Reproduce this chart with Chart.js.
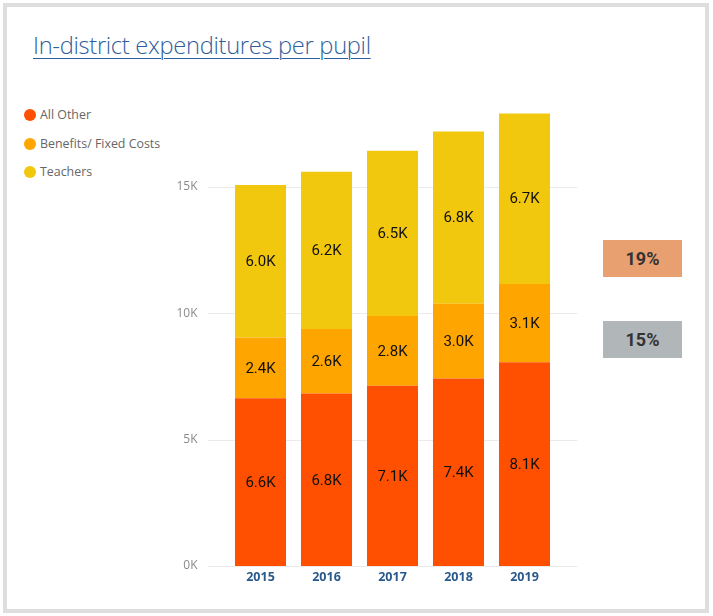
<!DOCTYPE html>
<html>
<head>
<meta charset="utf-8">
<script src="https://cdn.jsdelivr.net/npm/chart.js@4.4.0/dist/chart.umd.min.js"></script>
<style>
  html, body { margin: 0; padding: 0; background: #fff; }
  #wrap { position: relative; width: 713px; height: 616px; overflow: hidden; }
  #card { position: absolute; left: 3px; top: 3px; width: 698px; height: 602px; border: 4px solid #dedede; }
  #title { position: absolute; left: 33px; top: 29px; font-family: 'Open Sans', sans-serif; font-weight: 300;
           font-size: 23.7px; color: #2f5e9c; text-decoration: underline; text-underline-offset: 4px;
           text-decoration-thickness: 1px; white-space: nowrap; letter-spacing: -0.3px; }
  #legend { position: absolute; left: 24px; top: 106px; font-family: 'Open Sans', sans-serif; font-size: 12.4px; color: #666; }
  #legend div { height: 28.5px; line-height: 18px; white-space: nowrap; }
  #legend span { display: inline-block; width: 12px; height: 12px; border-radius: 50%; vertical-align: -2px; margin-right: 4px; }
  .pct { position: absolute; left: 603px; width: 79px; height: 37px; line-height: 37px; text-align: center;
         font-family: Roboto, sans-serif; font-weight: bold; font-size: 18px; color: #333; }
  canvas { position: absolute; left: 0; top: 0; }
</style>
</head>
<body>
<div id="wrap">
  <div id="card"></div>
  <div id="title">In-district expenditures per pupil</div>
  <div id="legend"></div>
  <div class="pct" style="top:240px;background:#e9a071;">19%</div>
  <div class="pct" style="top:321px;background:#b1b6b9;">15%</div>
  <canvas id="chart" width="713" height="616"></canvas>
</div>
<script>
const years = ['2015', '2016', '2017', '2018', '2019'];
const allOther = [6640, 6820, 7130, 7420, 8060];
const benefits = [2400, 2560, 2760, 2950, 3100];
const teachers = [6030, 6220, 6540, 6820, 6740];
const seriesNames = ['All Other', 'Benefits/ Fixed Costs', 'Teachers'];
const seriesColors = ['#fe5000', '#ffa500', '#f2c80f'];
const yTicks = [0, 5000, 10000, 15000];

// html legend
document.getElementById('legend').innerHTML = seriesNames.map((n, i) =>
  '<div><span style="background:' + seriesColors[i] + '"></span>' + n + '</div>').join('');

// gridlines that run a bit past the bars, like the original
const gridPlugin = {
  id: 'grid',
  beforeDatasetsDraw(chart) {
    const { ctx, chartArea, scales: { y } } = chart;
    ctx.save();
    ctx.strokeStyle = '#ebebeb';
    ctx.lineWidth = 1;
    y.ticks.forEach(t => {
      const py = Math.round(y.getPixelForValue(t.value)) + 0.5;
      ctx.beginPath();
      ctx.moveTo(chartArea.left - 20, py);
      ctx.lineTo(chartArea.right + 20, py);
      ctx.stroke();
    });
    ctx.restore();
  }
};

// value labels in the middle of each segment
const labelPlugin = {
  id: 'vals',
  afterDatasetsDraw(chart) {
    const { ctx } = chart;
    ctx.save();
    ctx.font = '15px Roboto';
    ctx.fillStyle = '#111';
    ctx.textAlign = 'center';
    ctx.textBaseline = 'middle';
    chart.data.datasets.forEach((ds, i) => {
      chart.getDatasetMeta(i).data.forEach((bar, j) => {
        const mid = (bar.y + bar.base) / 2;
        ctx.fillText((ds.data[j] / 1000).toFixed(1) + 'K', bar.x, mid + 1);
      });
    });
    ctx.restore();
  }
};

new Chart(document.getElementById('chart'), {
  type: 'bar',
  data: {
    labels: years,
    datasets: [
      { label: seriesNames[0], data: allOther, backgroundColor: seriesColors[0] },
      { label: seriesNames[1], data: benefits, backgroundColor: seriesColors[1] },
      { label: seriesNames[2], data: teachers, backgroundColor: seriesColors[2] }
    ]
  },
  options: {
    responsive: false,
    animation: false,
    layout: { padding: { left: 167.5, right: 155.5, top: 111, bottom: 20 } },
    datasets: { bar: { barPercentage: 0.773, categoryPercentage: 1, borderWidth: 0 } },
    plugins: { legend: { display: false }, tooltip: { enabled: false } },
    scales: {
      x: {
        stacked: true,
        grid: { display: false, drawTicks: false },
        border: { display: false },
        ticks: { color: '#2a5a8c', font: { family: 'Open Sans', size: 12.5, weight: 'bold' }, padding: 4 },
        afterFit: s => { s.height = 30; }
      },
      y: {
        stacked: true,
        min: 0,
        max: 18000,
        grid: { display: false, drawTicks: false },
        border: { display: false },
        afterBuildTicks: s => { s.ticks = yTicks.map(v => ({ value: v })); },
        ticks: {
          autoSkip: false,
          color: '#8a8a8a',
          padding: 30,
          font: { family: 'Open Sans', size: 12 },
          callback: v => (v / 1000) + 'K'
        },
        afterFit: s => { s.width = 60; }
      }
    }
  },
  plugins: [gridPlugin, labelPlugin]
});
</script>
</body>
</html>
